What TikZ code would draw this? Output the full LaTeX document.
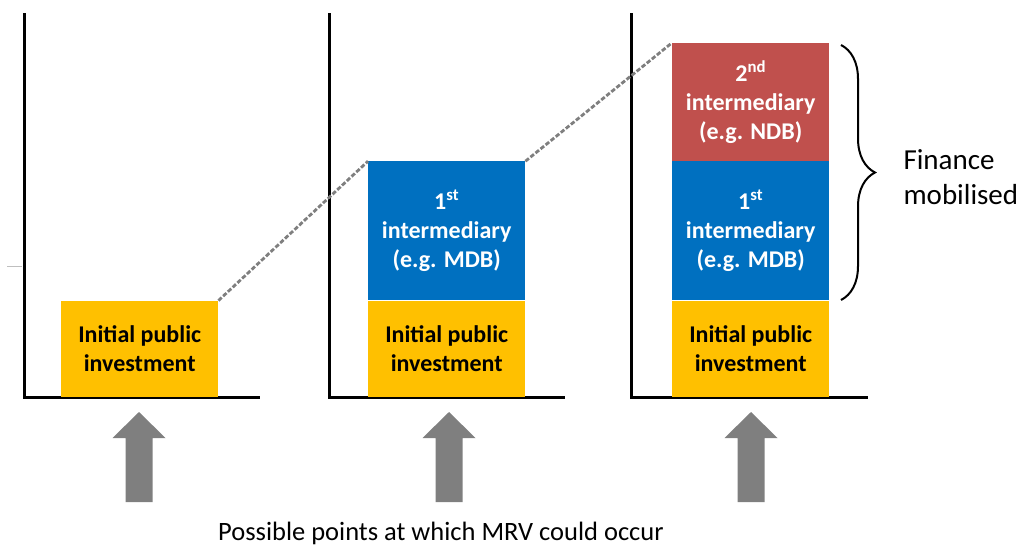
\documentclass[tikz,border=0pt]{standalone}
\usepackage{fontspec}
\setmainfont{Carlito}
\usetikzlibrary{decorations.pathreplacing}

\definecolor{gold}{HTML}{FFC000}
\definecolor{mdbblue}{HTML}{0070C0}
\definecolor{ndbred}{HTML}{C0504D}
\definecolor{arrowgray}{HTML}{7F7F7F}

\tikzset{
  axis/.style={line width=3pt, line join=miter},
  bar/.style={draw=none, minimum width=157pt, inner sep=0pt, align=center,
    anchor=south west, font=\bfseries\fontsize{24}{29}\selectfont},
  link/.style={draw=arrowgray, line width=2.8pt, dash pattern=on 4.5pt off 2pt}
}

\begin{document}
\begin{tikzpicture}[x=1pt,y=-1pt]
        \useasboundingbox (0,0) rectangle (1022,552);

        % draw axes
        \foreach \x/\w in {24/236,329/236,631/237}
          \draw[axis] (\x,13) -- (\x,397) -- (\x+\w,397);

        % small tick on the left
        \draw[gray!50, line width=1pt] (7,266) -- (22,266);

        % draw bars
        \node[bar, fill=gold, minimum height=96pt] (init1) at (61,397) {Initial public\\investment};
        \node[bar, fill=gold, minimum height=96pt] (init2) at (368,397) {Initial public\\investment};
        \node[bar, fill=mdbblue, text=white, minimum height=139pt] (mdb2) at (init2.north west) {1\textsuperscript{st}\\intermediary\\(e.g. MDB)};
        \node[bar, fill=gold, minimum height=96pt] (init3) at (672,397) {Initial public\\investment};
        \node[bar, fill=mdbblue, text=white, minimum height=139pt] (mdb3) at (init3.north west) {1\textsuperscript{st}\\intermediary\\(e.g. MDB)};
        \node[bar, fill=ndbred, text=white, minimum height=118pt] (ndb3) at (mdb3.north west) {2\textsuperscript{nd}\\intermediary\\(e.g. NDB)};

        % draw dashed links
        \draw[link] (init1.north east) -- (mdb2.north west);
        \draw[link] (mdb2.north east) -- (ndb3.north west);

        % draw brace
        \coordinate (bracetop) at (841,45);
        \coordinate (bracebot) at (841,300);
        \draw[line width=2pt, decorate, decoration={brace, amplitude=34pt}] (bracetop) -- (bracebot);
        \node[anchor=west, align=left, font=\fontsize{29}{35}\selectfont] (finance) at (900,177) {Finance\\mobilised};

        % draw arrows
        \foreach \x in {139,449,751}
          \fill[arrowgray] (\x-13.5,502) -- (\x-13.5,438) -- (\x-26.5,438) -- (\x,412)
            -- (\x+26.5,438) -- (\x+13.5,438) -- (\x+13.5,502) -- cycle;

        % draw caption
        \node[anchor=base, font=\fontsize{26.5}{30}\selectfont] (caption) at (441,540) {Possible points at which MRV could occur};
\end{tikzpicture}
\end{document}
